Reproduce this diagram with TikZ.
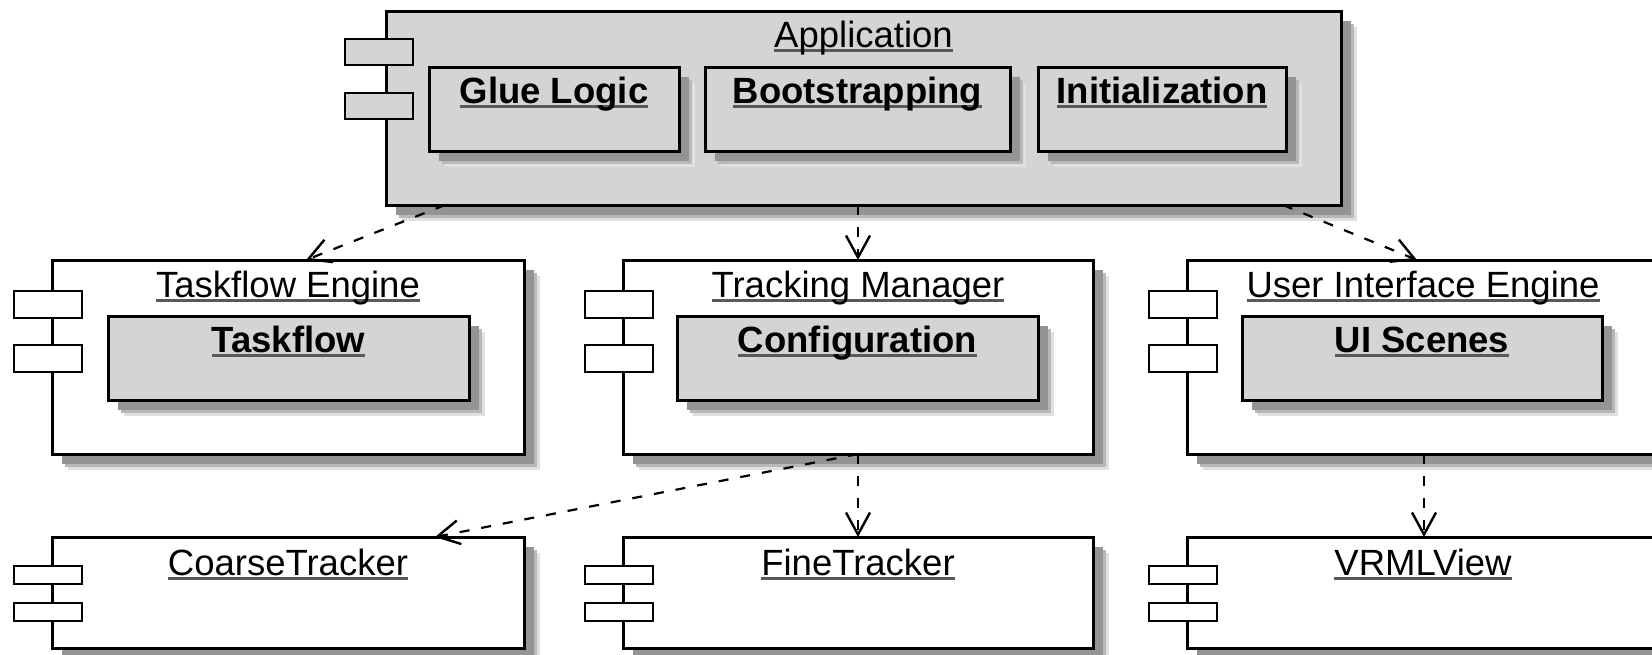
\documentclass[tikz,border=0pt]{standalone}
\usepackage{fontspec}
\setmainfont{Liberation Sans}
\usetikzlibrary{arrows.meta,shadows}
\definecolor{appgray}{gray}{0.83}
\definecolor{shA}{gray}{0.58}
\definecolor{shB}{gray}{0.72}
\definecolor{shC}{gray}{0.88}
\definecolor{ulgray}{gray}{0.35}
\newcommand{\myul}[1]{\setbox0\hbox{#1}\rlap{\textcolor{ulgray}{\rule[-4.5pt]{\wd0}{2.5pt}}}\box0}
\tikzset{
  softshadow/.style={
    general shadow={fill=shC, shadow xshift=16pt, shadow yshift=-16pt},
    general shadow={fill=shB, shadow xshift=13pt, shadow yshift=-13pt},
    general shadow={fill=shA, shadow xshift=10pt, shadow yshift=-10pt}},
  comp/.style={draw=black, line width=3pt, rectangle, inner sep=0pt, outer sep=0pt,
    anchor=north west, fill=white, softshadow},
  inbox/.style={comp, fill=appgray},
  port/.style={draw=black, line width=2.5pt, rectangle, inner sep=0pt, outer sep=0pt,
    anchor=north west, minimum width=68pt, fill=white},
  ttl/.style={inner sep=0pt, anchor=base, font=\fontsize{36.5}{40}\selectfont},
  bttl/.style={ttl, font=\fontsize{36.5}{40}\selectfont\bfseries},
  dep/.style={line width=2.2pt, dash pattern=on 10pt off 12pt,
    -{Straight Barb[length=22pt,width=24pt,line width=2.4pt]}}
}
\begin{document}
\begin{tikzpicture}[x=1pt,y=-1pt]
\useasboundingbox (0,0) rectangle (1652,654);
\fill[white] (0,0) rectangle (1652,654);
\clip (0,0) rectangle (1652,654);

% Application
\node[comp, fill=appgray, minimum width=955pt, minimum height=194pt] (app) at (386,11) {};
\node[port, fill=appgray, minimum height=26pt] (appP1) at (345,39) {};
\node[port, fill=appgray, minimum height=26pt] (appP2) at (345,93) {};
\node[ttl] (appT) at ([yshift=-36pt]app.north) {\myul{Application}};
\node[inbox, minimum width=250pt, minimum height=84pt] (glue) at (429,67) {};
\node[bttl] (glueT) at ([yshift=-36pt]glue.north) {\myul{Glue Logic}};
\node[inbox, minimum width=305pt, minimum height=84pt] (boot) at (705,67) {};
\node[bttl] (bootT) at ([yshift=-36pt]boot.north) {\myul{Bootstrapping}};
\node[inbox, minimum width=248pt, minimum height=84pt] (init) at (1038,67) {};
\node[bttl] (initT) at ([yshift=-36pt]init.north) {\myul{Initialization}};

% Taskflow Engine
\node[comp, minimum width=472pt, minimum height=194pt] (te) at (52,260) {};
\node[port, minimum height=27pt] (teP1) at (14,291) {};
\node[port, minimum height=27pt] (teP2) at (14,345) {};
\node[ttl] (teT) at ([yshift=-37pt]te.north) {\myul{Taskflow Engine}};
\node[inbox, minimum width=361pt, minimum height=84pt] (task) at (108,316) {};
\node[bttl] (taskT) at ([yshift=-36pt]task.north) {\myul{Taskflow}};

% Tracking Manager
\node[comp, minimum width=470pt, minimum height=194pt] (tm) at (623,260) {};
\node[port, minimum height=27pt] (tmP1) at (585,291) {};
\node[port, minimum height=27pt] (tmP2) at (585,345) {};
\node[ttl] (tmT) at ([yshift=-37pt]tm.north) {\myul{Tracking Manager}};
\node[inbox, minimum width=361pt, minimum height=84pt] (conf) at (677,316) {};
\node[bttl] (confT) at ([yshift=-36pt]conf.north) {\myul{Configuration}};

% User Interface Engine
\node[comp, minimum width=472pt, minimum height=194pt] (uie) at (1187,260) {};
\node[port, minimum height=27pt] (uieP1) at (1149,291) {};
\node[port, minimum height=27pt] (uieP2) at (1149,345) {};
\node[ttl] (uieT) at ([yshift=-37pt]uie.north) {\myul{User Interface Engine}};
\node[inbox, minimum width=360pt, minimum height=84pt] (uis) at (1242,316) {};
\node[bttl] (uisT) at ([yshift=-36pt]uis.north) {\myul{UI Scenes}};

% Bottom row
\node[comp, minimum width=472pt, minimum height=111pt] (ct) at (52,537) {};
\node[port, minimum height=18pt] (ctP1) at (14,566) {};
\node[port, minimum height=18pt] (ctP2) at (14,603) {};
\node[ttl] (ctT) at ([yshift=-38pt]ct.north) {\myul{CoarseTracker}};

\node[comp, minimum width=470pt, minimum height=111pt] (ft) at (623,537) {};
\node[port, minimum height=18pt] (ftP1) at (585,566) {};
\node[port, minimum height=18pt] (ftP2) at (585,603) {};
\node[ttl] (ftT) at ([yshift=-38pt]ft.north) {\myul{FineTracker}};

\node[comp, minimum width=472pt, minimum height=111pt] (vr) at (1187,537) {};
\node[port, minimum height=18pt] (vrP1) at (1149,566) {};
\node[port, minimum height=18pt] (vrP2) at (1149,603) {};
\node[ttl] (vrT) at ([yshift=-38pt]vr.north) {\myul{VRMLView}};

% Dependencies
\draw[dep] ([xshift=59pt]app.south west) -- ([xshift=254pt]te.north west);
\draw[dep] (tm.north |- app.south) -- (tm.north);
\draw[dep] ([xshift=897pt]app.south west) -- ([xshift=230pt]uie.north west);
\draw[dep] (tm.south) -- ([xshift=383pt]ct.north west);
\draw[dep] (tm.south) -- (ft.north);
\draw[dep] ([xshift=237pt]uie.south west) -- ([xshift=237pt]vr.north west);
\end{tikzpicture}
\end{document}
